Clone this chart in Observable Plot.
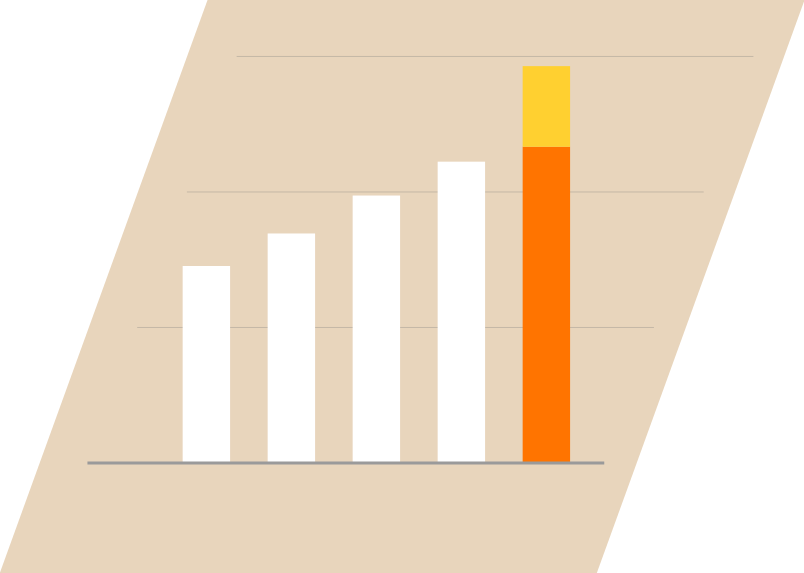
<!DOCTYPE html>
<html>
<head>
<meta charset="utf-8">
<script src="https://cdn.jsdelivr.net/npm/d3@7"></script>
<script src="https://cdn.jsdelivr.net/npm/@observablehq/plot@0.6"></script>
<style>
  html, body { margin: 0; padding: 0; background: #ffffff; }
  #chart svg { display: block; }
</style>
</head>
<body>
<div id="chart"></div>
<script>
// Data
const categories = ["1", "2", "3", "4", "5"];
const baseValues = [14.5, 16.9, 19.7, 22.2, 23.3];
const topValues = [0, 0, 0, 0, 5.95];
const gridValues = [10, 20, 30];
const baselineValue = [0];

// Layout helpers (scale domains and skew of the slanted panel)
const xDomain = [-2.428, 7.031];
const yDomain = [-8.155, 34.13];
const skew = 0.0578;          // panel: x-units per y-unit
const gridSkew = 0.0585;      // gridlines: x-units per y-unit
const panelLeft0 = -1.959;    // panel left edge at y = 0
const panelWidth = 7.024;
const gridLeft0 = -1.405;     // gridline start at y = 0
const gridLength = 6.08;
const barHalf = 0.279;

const bars = categories.map((c, i) => ({i, c, base: baseValues[i], top: topValues[i], last: i === categories.length - 1}));

const chart = Plot.plot({
  width: 804,
  height: 573,
  margin: 0,
  x: {domain: xDomain, axis: null},
  y: {domain: yDomain, axis: null},
  style: {background: "transparent"},
  marks: [
    Plot.areaX(yDomain, {
      y: d => d,
      x1: d => panelLeft0 + skew * d,
      x2: d => panelLeft0 + skew * d + panelWidth,
      fill: "#e8d5bc",
      curve: "linear"
    }),
    Plot.link(gridValues, {
      y1: d => d, y2: d => d,
      x1: d => gridLeft0 + gridSkew * d,
      x2: d => gridLeft0 + gridSkew * d + gridLength,
      stroke: "#c4b8a7",
      strokeWidth: 1
    }),
    Plot.rectY(bars, {
      x1: d => d.i - barHalf,
      x2: d => d.i + barHalf,
      y1: 0,
      y2: d => d.base,
      fill: d => d.last ? "#ff7400" : "#ffffff"
    }),
    Plot.rectY(bars.filter(d => d.top > 0), {
      x1: d => d.i - barHalf,
      x2: d => d.i + barHalf,
      y1: d => d.base,
      y2: d => d.base + d.top,
      fill: "#ffd030"
    }),
    Plot.link(baselineValue, {
      y1: d => d, y2: d => d,
      x1: d => gridLeft0 + gridSkew * d,
      x2: d => gridLeft0 + gridSkew * d + gridLength,
      stroke: "#9a9a9a",
      strokeWidth: 3
    })
  ]
});
document.getElementById("chart").appendChild(chart);
</script>
</body>
</html>
